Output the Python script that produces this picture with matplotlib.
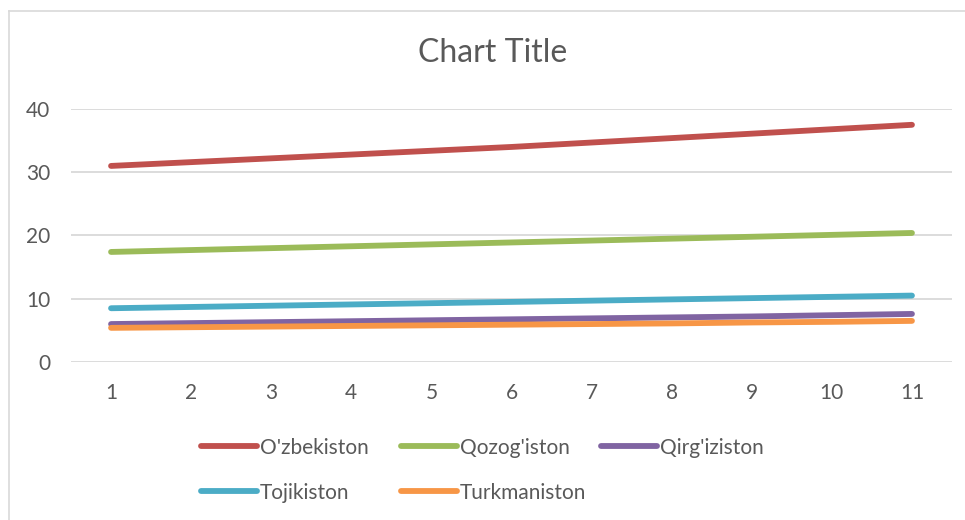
import matplotlib.pyplot as plt
from matplotlib.lines import Line2D

# Data
x = list(range(1, 12))
ozbekiston = [31.0, 31.6, 32.2, 32.8, 33.4, 34.0, 34.7, 35.4, 36.1, 36.8, 37.5]
qozogiston = [17.4, 17.7, 18.0, 18.3, 18.6, 18.9, 19.2, 19.5, 19.8, 20.1, 20.4]
qirgiziston = [6.0, 6.15, 6.3, 6.45, 6.6, 6.75, 6.9, 7.05, 7.2, 7.4, 7.6]
tojikiston = [8.5, 8.7, 8.9, 9.1, 9.3, 9.5, 9.7, 9.9, 10.1, 10.3, 10.5]
turkmaniston = [5.4, 5.5, 5.6, 5.7, 5.8, 5.9, 6.0, 6.1, 6.25, 6.35, 6.5]

names = ["O'zbekiston", "Qozog'iston", "Qirg'iziston", "Tojikiston", "Turkmaniston"]
colors = ['#C0504D', '#9BBB59', '#8064A2', '#4BACC6', '#F79646']
series = [ozbekiston, qozogiston, qirgiziston, tojikiston, turkmaniston]

plt.rcParams['font.family'] = ['Lato', 'DejaVu Sans']
txt = '#595959'

fig = plt.figure(figsize=(9.65, 5.2), dpi=100)
W, H = 965, 520
ax = fig.add_axes([71 / W, 1 - 362 / H, (952 - 71) / W, (362 - 109) / H])

for vals, name, c in zip(series, names, colors):
    ax.plot(x, vals, color=c, lw=4.2, solid_capstyle='round', label=name)

ax.set_xlim(0.5, 11.5)
ax.set_ylim(0, 40)
ax.set_xticks(x)
ax.set_yticks([0, 10, 20, 30, 40])
ax.grid(axis='y', color='#D9D9D9', lw=1.3)
ax.set_axisbelow(True)
for s in ax.spines.values():
    s.set_visible(False)
ax.tick_params(length=0, labelsize=15, colors=txt)
ax.tick_params(axis='x', pad=15)
ax.tick_params(axis='y', pad=15)

fig.text(493 / W, 1 - 53 / H, 'Chart Title', ha='center', va='center',
         fontsize=23, color=txt)

# Legend, laid out row by row like Excel does it
leg_pos = [(201, 446), (401, 446), (601, 446), (201, 491), (401, 491)]
for (px, py), name, c in zip(leg_pos, names, colors):
    fig.add_artist(Line2D([px / W, (px + 56) / W], [1 - py / H, 1 - py / H],
                          color=c, lw=4.2, solid_capstyle='round'))
    fig.text((px + 59) / W, 1 - py / H, name, ha='left', va='center_baseline',
             fontsize=15, color=txt)

# chart border
fig.add_artist(Line2D([8.5 / W, 8.5 / W], [0, 1 - 10.5 / H], color='#D9D9D9', lw=1.2))
fig.add_artist(Line2D([8.5 / W, 1], [1 - 10.5 / H, 1 - 10.5 / H], color='#D9D9D9', lw=1.2))

fig.savefig('out.png', dpi=100)
